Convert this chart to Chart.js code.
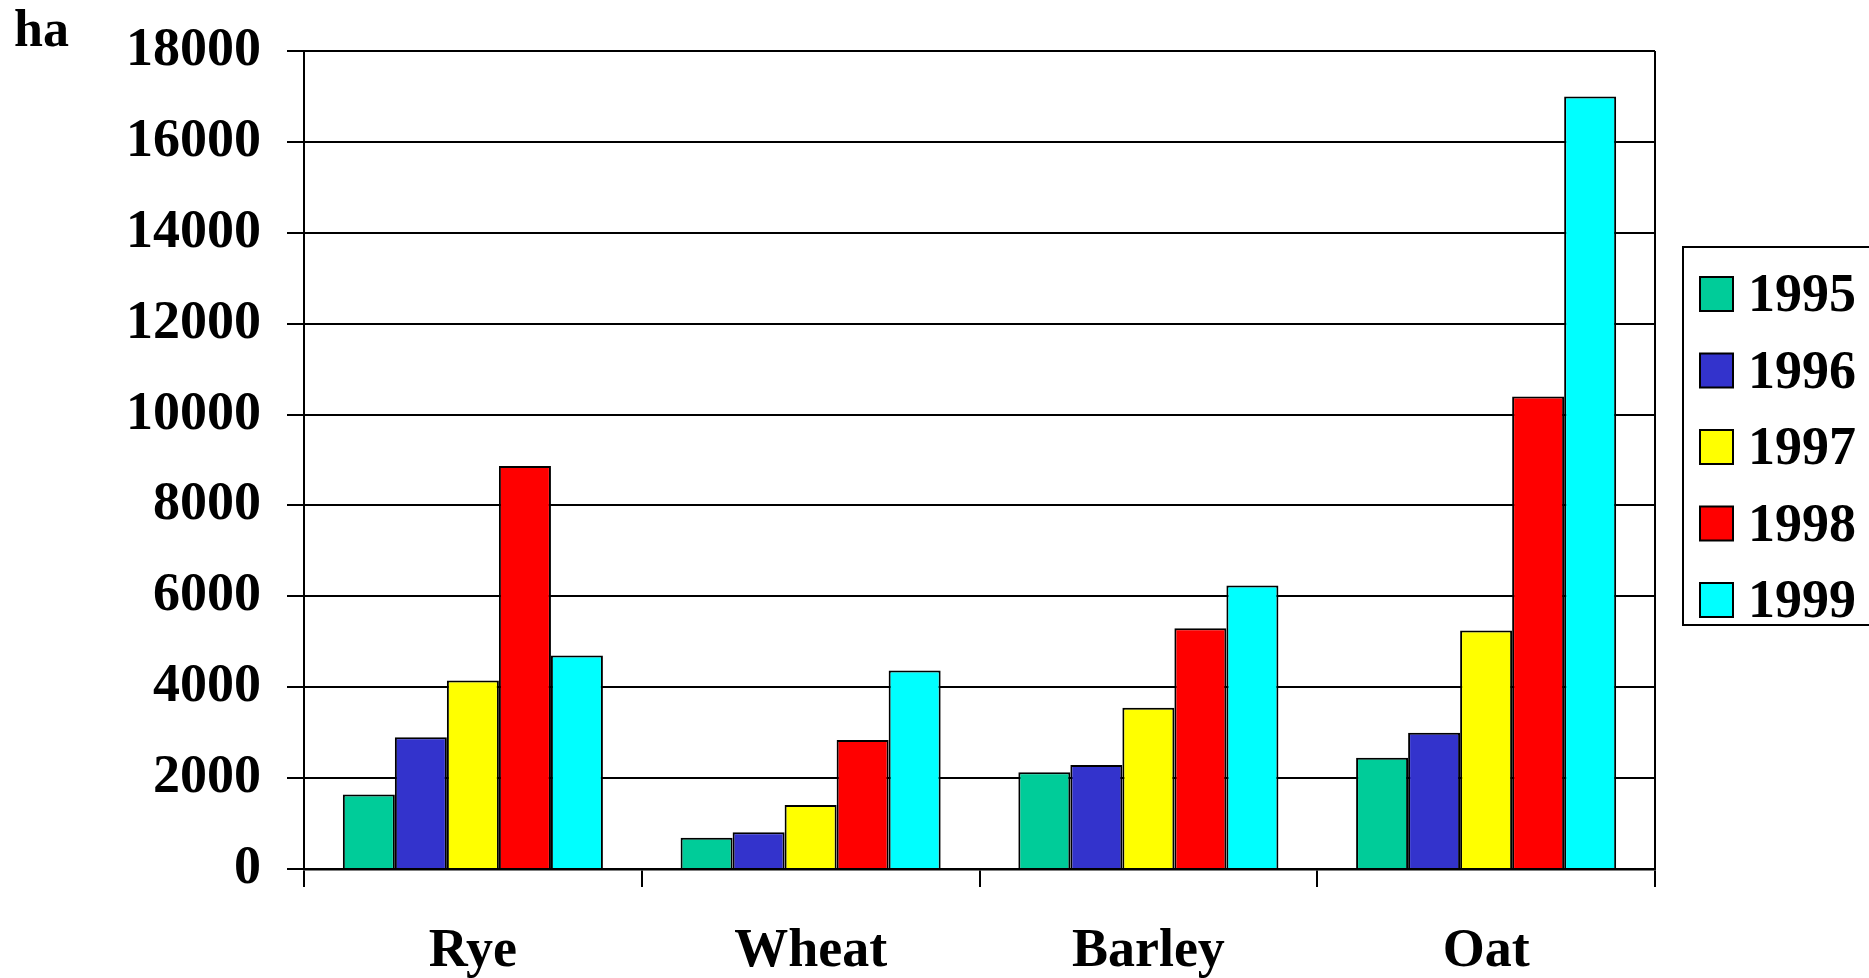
<!DOCTYPE html>
<html>
<head>
<meta charset="utf-8">
<title>Grain area by crop, 1995–1999</title>
<script src="https://cdn.jsdelivr.net/npm/chart.js@4.4.1/dist/chart.umd.min.js"></script>
<style>
  html, body { margin: 0; padding: 0; background: #fff; }
  #wrap { width: 1869px; height: 978px; }
</style>
</head>
<body>
<div id="wrap"><canvas id="c" width="1869" height="978"></canvas></div>
<script>
// Crops on the category axis
const crops = ['Rye', 'Wheat', 'Barley', 'Oat'];

// Sown area (ha) per year, one value per crop
const years = ['1995', '1996', '1997', '1998', '1999'];
const area1995 = [1640, 690, 2130, 2450];
const area1996 = [2900, 810, 2290, 3000];
const area1997 = [4150, 1410, 3550, 5250];
const area1998 = [8870, 2840, 5300, 10400];
const area1999 = [4700, 4370, 6240, 17000];

// Value axis
const yMin = 0;
const yMax = 18000;
const yStep = 2000;
const unitLabel = 'ha';

const seriesValues = [area1995, area1996, area1997, area1998, area1999];
const seriesColors = ['#00CC99', '#3333CC', '#FFFF00', '#FF0000', '#00FFFF'];

const FONT = '"Liberation Serif", "Times New Roman", serif';

const datasets = years.map((y, i) => ({
  label: y,
  data: seriesValues[i],
  backgroundColor: seriesColors[i],
  borderColor: '#000',
  borderWidth: 2,
  borderSkipped: 'bottom',
  barPercentage: 1.0,
  categoryPercentage: 0.77
}));

// Boxed legend on the right and the unit label at top-left
const decorations = {
  id: 'decorations',
  afterDraw(chart) {
    const ctx = chart.ctx;
    ctx.save();
    // unit label
    ctx.fillStyle = '#000';
    ctx.font = 'bold 52px ' + FONT;
    ctx.textAlign = 'left';
    ctx.textBaseline = 'alphabetic';
    ctx.fillText(unitLabel, 14, 46);

    // legend frame
    ctx.strokeStyle = '#000';
    ctx.lineWidth = 2;
    ctx.strokeRect(1683, 247, 200, 378);

    // legend entries
    ctx.font = 'bold 54px ' + FONT;
    chart.data.datasets.forEach((ds, i) => {
      const base = 311 + i * 76.5;
      ctx.fillStyle = ds.backgroundColor;
      ctx.fillRect(1700, base - 34, 33, 34);
      ctx.lineWidth = 2;
      ctx.strokeStyle = '#000';
      ctx.strokeRect(1700, base - 34, 33, 34);
      ctx.fillStyle = '#000';
      ctx.fillText(ds.label, 1748, base);
    });
    ctx.restore();
  }
};

new Chart(document.getElementById('c'), {
  type: 'bar',
  data: { labels: crops, datasets },
  options: {
    responsive: false,
    animation: false,
    devicePixelRatio: 1,
    layout: { padding: { top: 51, right: 214, left: 0, bottom: 0 } },
    plugins: {
      legend: { display: false },
      tooltip: { enabled: false }
    },
    scales: {
      x: {
        offset: true,
        grid: {
          offset: true,
          drawOnChartArea: true,
          color: (c) => (c.type === 'tick' && c.index > 0) ? 'rgba(0,0,0,0)' : '#000',
          tickColor: '#000',
          lineWidth: 2,
          tickLength: 18
        },
        border: { display: true, color: '#000', width: 2.5 },
        ticks: {
          color: '#000',
          font: { family: FONT, size: 54, weight: 'bold' },
          padding: 33,
          maxRotation: 0,
          autoSkip: false
        },
        afterFit(scale) { scale.height = 109; }
      },
      y: {
        min: yMin,
        max: yMax,
        grid: {
          color: '#000',
          lineWidth: 2,
          tickLength: 17,
          tickColor: '#000'
        },
        border: { display: true, color: '#000', width: 2 },
        ticks: {
          stepSize: yStep,
          color: '#000',
          font: { family: FONT, size: 54, weight: 'bold' },
          padding: 26,
          callback: (v) => String(v)
        },
        afterFit(scale) {
          scale.width = 304;
          scale.paddingTop = 0;
          scale.paddingBottom = 0;
        }
      }
    }
  },
  plugins: [decorations]
});
</script>
</body>
</html>
